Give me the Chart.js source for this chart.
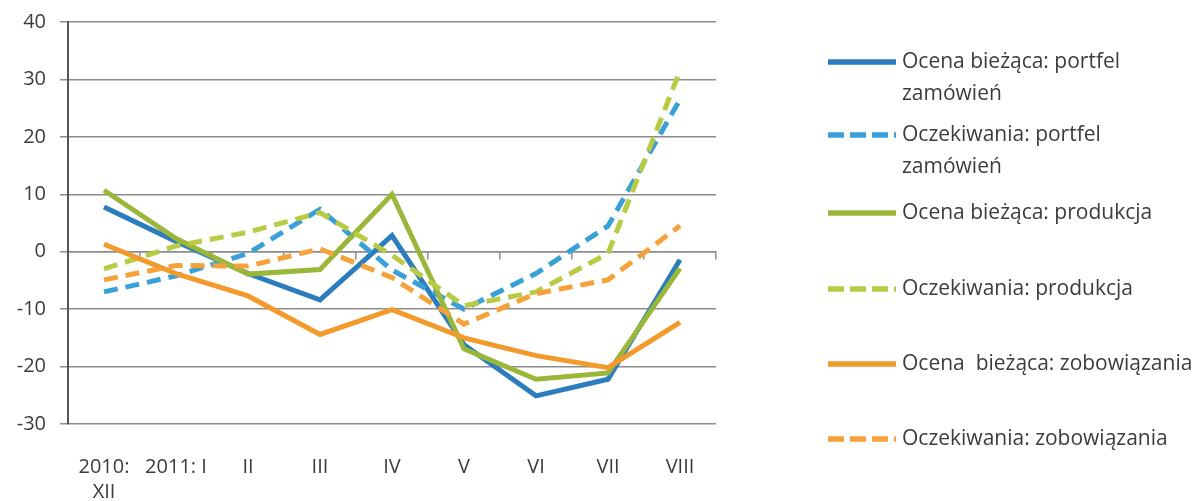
<!DOCTYPE html>
<html>
<head>
<meta charset="utf-8">
<script src="https://cdn.jsdelivr.net/npm/chart.js@4/dist/chart.umd.min.js"></script>
<style>
  html, body { margin: 0; padding: 0; background: #fff; }
  #wrap { position: relative; width: 1194px; height: 501px; }
</style>
</head>
<body>
<div id="wrap"><canvas id="myChart"></canvas></div>
<script>
const months = [['2010:', 'XII'], '2011: I', 'II', 'III', 'IV', 'V', 'VI', 'VII', 'VIII'];
const yTicks = [40, 30, 20, 10, 0, -10, -20, -30];

const ocenaPortfel    = [7.8, 1.8, -3.8, -8.4, 2.8, -16.2, -25.1, -22.2, -1.4];
const oczekPortfel    = [-7.0, -4.2, -0.3, 7.4, -3.2, -10.0, -3.8, 4.5, 26.5];
const ocenaProdukcja  = [10.7, 2.3, -3.9, -3.1, 10.0, -16.9, -22.2, -21.1, -2.9];
const oczekProdukcja  = [-3.0, 1.0, 3.4, 6.8, -0.6, -9.4, -7.0, -0.3, 31.5];
const ocenaZobow      = [1.3, -3.8, -7.7, -14.4, -10.1, -15.0, -18.1, -20.2, -12.3];
const oczekZobow      = [-4.9, -2.4, -2.5, 0.5, -4.5, -12.6, -7.3, -4.9, 4.5];

const seriesLabels = [
  ['Ocena bieżąca: portfel', 'zamówień'],
  ['Oczekiwania: portfel', 'zamówień'],
  ['Ocena bieżąca: produkcja'],
  ['Oczekiwania: produkcja'],
  ['Ocena  bieżąca: zobowiązania'],
  ['Oczekiwania: zobowiązania']
];

const FONT = '"Open Sans"';
const TEXT = '#3c3c3c';
const GRID = '#8c8c8c';

const blue = '#2b7dbd', blueL = '#3aa0d8';
const green = '#9bb73a', greenL = '#b9cb45';
const orange = '#f39a2c', orangeL = '#f6a23a';

const allSeries = [ocenaPortfel, oczekPortfel, ocenaProdukcja, oczekProdukcja, ocenaZobow, oczekZobow];
const colors = [blue, blueL, green, greenL, orange, orangeL];
const dashes = [[], [14, 8], [], [14, 8], [], [14, 8]];

const datasets = allSeries.map((d, i) => ({
  label: seriesLabels[i],
  data: d,
  borderColor: colors[i],
  backgroundColor: colors[i],
  borderWidth: 5,
  borderDash: dashes[i],
  borderCapStyle: 'butt',
  pointRadius: 0,
  tension: 0,
  fill: false,
  xAxisID: 'x',
  yAxisID: 'y',
  order: 6 - i,
}));

// legend on the right, drawn by hand so the labels can wrap like the original
const sideLegend = {
  id: 'sideLegend',
  afterDraw(chart, args, opts) {
    const ctx = chart.ctx;
    ctx.save();
    ctx.font = opts.fontSize + 'px ' + FONT;
    ctx.textBaseline = 'middle';
    ctx.fillStyle = TEXT;
    chart.data.datasets.forEach((ds, i) => {
      const y = opts.rows[i];
      ctx.beginPath();
      ctx.strokeStyle = ds.borderColor;
      ctx.lineWidth = 5.5;
      ctx.lineCap = 'butt';
      ctx.setLineDash(ds.borderDash.length ? [16, 6] : []);
      ctx.moveTo(opts.x0, y);
      ctx.lineTo(opts.x1, y);
      ctx.stroke();
      ctx.setLineDash([]);
      ds.label.forEach((t, k) => {
        ctx.fillText(t, opts.textX, y + k * opts.lineH);
      });
    });
    ctx.restore();
  }
};

const config = {
  type: 'line',
  data: { labels: months, datasets },
  options: {
    responsive: true,
    maintainAspectRatio: false,
    animation: false,
    layout: { padding: { top: 22, right: 478, bottom: 0, left: 0 } },
    plugins: {
      legend: { display: false },
      tooltip: { enabled: false },
      sideLegend: {
        rows: [62, 135, 213, 289, 364, 439],
        x0: 828, x1: 896, textX: 902, lineH: 32, fontSize: 21
      }
    },
    scales: {
      x: {
        type: 'category',
        offset: true,
        grid: { display: false },
        border: { display: false },
        ticks: { color: TEXT, font: { family: '"Open Sans"', size: 20, lineHeight: 1.25 }, padding: 23, maxRotation: 0, autoSkip: false },
        afterFit: s => { s.height = 77; }
      },
      x0: {
        type: 'category',
        labels: months,
        position: { y: 0 },
        offset: true,
        ticks: { display: false },
        grid: { offset: true, drawOnChartArea: false, drawTicks: true, tickLength: 7, color: GRID, lineWidth: 1.5 },
        border: { display: true, color: GRID, width: 1.5 }
      },
      y: {
        min: -30,
        max: 40,
        afterBuildTicks: s => { s.ticks = yTicks.map(v => ({ value: v })); },
        ticks: { color: TEXT, font: { family: '"Open Sans"', size: 20 }, padding: 14 },
        grid: { color: GRID, lineWidth: 1.5, tickLength: 8 },
        border: { color: '#555', width: 2 },
        afterFit: s => { s.width = 68; s.paddingTop = 0; s.paddingBottom = 0; }
      }
    }
  },
  plugins: [sideLegend]
};

const ctx = document.getElementById('myChart').getContext('2d');
const myChart = new Chart(ctx, config);
</script>
</body>
</html>
